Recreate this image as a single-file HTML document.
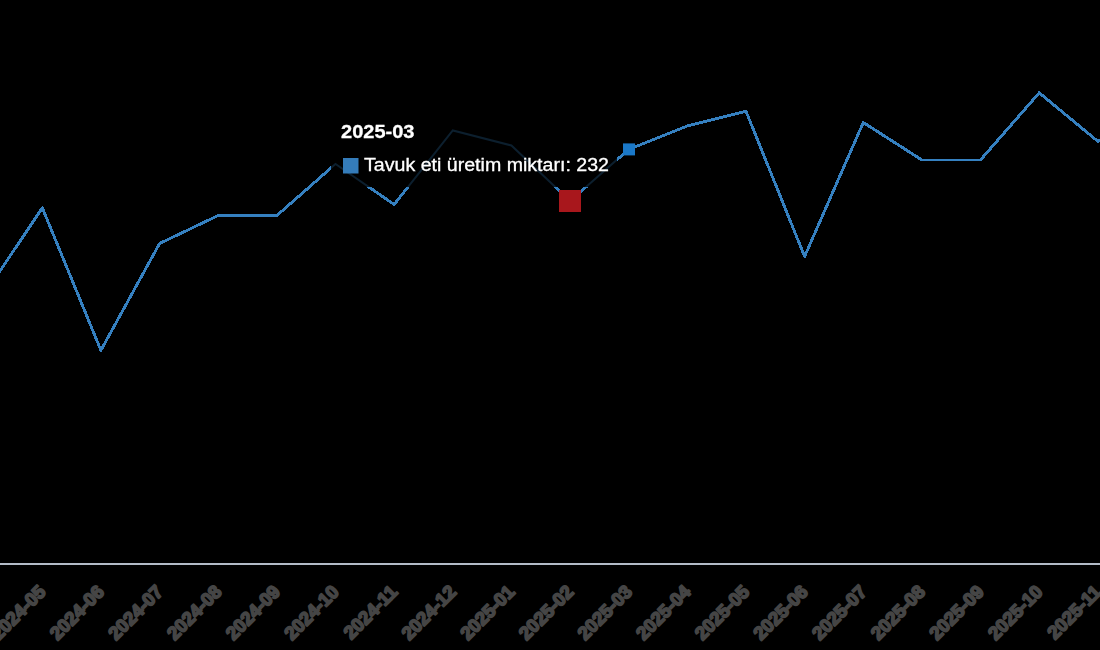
<!DOCTYPE html>
<html><head><meta charset="utf-8"><style>
html,body{margin:0;padding:0;background:#000;width:1100px;height:650px;overflow:hidden}
svg{display:block}
.lab text{font-family:"Liberation Sans",sans-serif;font-size:18.5px;font-weight:bold;fill:#454545;stroke:#454545;stroke-width:1.8px;stroke-linejoin:round;text-anchor:end}
.tt{font-family:"Liberation Sans",sans-serif;fill:#fff;stroke:#fff;stroke-width:0.3px}
.ttg{will-change:transform}
</style></head><body>
<svg width="1100" height="650" viewBox="0 0 1100 650">
<rect width="1100" height="650" fill="#000"/>
<line x1="0" y1="564" x2="1100" y2="564" stroke="#b3bbc7" stroke-width="2"/>
<g class="lab"><text x="-11.8" y="593" transform="rotate(-45 -11.8 593)">2024-04</text><text x="46.8" y="593" transform="rotate(-45 46.8 593)">2024-05</text><text x="105.4" y="593" transform="rotate(-45 105.4 593)">2024-06</text><text x="164.1" y="593" transform="rotate(-45 164.1 593)">2024-07</text><text x="222.7" y="593" transform="rotate(-45 222.7 593)">2024-08</text><text x="281.4" y="593" transform="rotate(-45 281.4 593)">2024-09</text><text x="340.0" y="593" transform="rotate(-45 340.0 593)">2024-10</text><text x="398.6" y="593" transform="rotate(-45 398.6 593)">2024-11</text><text x="457.3" y="593" transform="rotate(-45 457.3 593)">2024-12</text><text x="515.9" y="593" transform="rotate(-45 515.9 593)">2025-01</text><text x="574.6" y="593" transform="rotate(-45 574.6 593)">2025-02</text><text x="633.2" y="593" transform="rotate(-45 633.2 593)">2025-03</text><text x="691.8" y="593" transform="rotate(-45 691.8 593)">2025-04</text><text x="750.5" y="593" transform="rotate(-45 750.5 593)">2025-05</text><text x="809.1" y="593" transform="rotate(-45 809.1 593)">2025-06</text><text x="867.8" y="593" transform="rotate(-45 867.8 593)">2025-07</text><text x="926.4" y="593" transform="rotate(-45 926.4 593)">2025-08</text><text x="985.0" y="593" transform="rotate(-45 985.0 593)">2025-09</text><text x="1043.7" y="593" transform="rotate(-45 1043.7 593)">2025-10</text><text x="1102.3" y="593" transform="rotate(-45 1102.3 593)">2025-11</text><text x="1161.0" y="593" transform="rotate(-45 1161.0 593)">2025-12</text></g>
<defs><clipPath id="out"><path d="M0 0H1100V650H0Z M331 108V187H617V108Z" clip-rule="evenodd"/></clipPath><clipPath id="in"><rect x="331" y="108" width="286" height="79"/></clipPath></defs>
<path d="M-16.3 295.5 L42.3 207.8 L100.9 350.3 L159.6 243.5 L218.2 215.5 L276.9 215.5 L335.5 164.0 L394.1 204.5 L452.8 130.5 L511.4 145.5 L570.1 201.0 L628.7 149.4 L687.3 126.0 L746.0 111.3 L804.6 256.5 L863.3 122.5 L921.9 160.0 L980.5 160.0 L1039.2 92.8 L1097.8 141.3 L1156.5 110.0" fill="none" stroke="#3580c0" stroke-width="2.9" stroke-linejoin="round" stroke-linecap="round" shape-rendering="crispEdges" clip-path="url(#out)"/>
<path d="M-16.3 295.5 L42.3 207.8 L100.9 350.3 L159.6 243.5 L218.2 215.5 L276.9 215.5 L335.5 164.0 L394.1 204.5 L452.8 130.5 L511.4 145.5 L570.1 201.0 L628.7 149.4 L687.3 126.0 L746.0 111.3 L804.6 256.5 L863.3 122.5 L921.9 160.0 L980.5 160.0 L1039.2 92.8 L1097.8 141.3 L1156.5 110.0" fill="none" stroke="#0c1f2e" stroke-width="2" stroke-linejoin="miter" clip-path="url(#in)"/>
<rect x="559" y="190" width="22" height="22" fill="#a8171c"/>
<rect x="623" y="143.4" width="12" height="12" fill="#1a78c8"/>
<g class="ttg"><text class="tt" x="341" y="138" font-size="18.5" font-weight="bold" textLength="73.5" lengthAdjust="spacingAndGlyphs">2025-03</text>
<rect x="343" y="158" width="15.5" height="15.5" fill="#347cba"/>
<text class="tt" x="364" y="170.5" font-size="17.5" textLength="245" lengthAdjust="spacingAndGlyphs">Tavuk eti üretim miktarı: 232</text></g>
</svg>
</body></html>
